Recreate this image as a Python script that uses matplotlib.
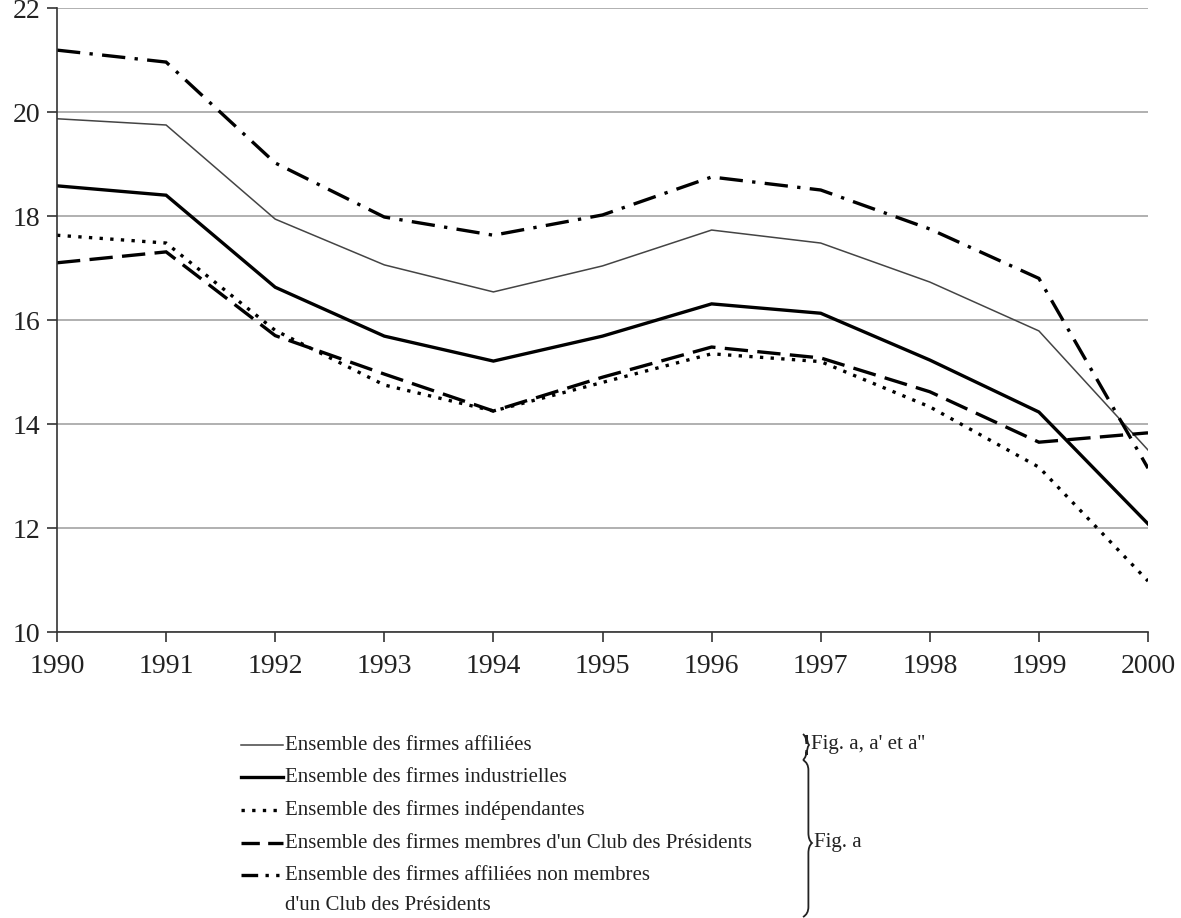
import matplotlib

matplotlib.use('agg')

import matplotlib.pyplot as plt
from matplotlib.path import Path
from matplotlib.patches import PathPatch

years = [1990, 1991, 1992, 1993, 1994, 1995, 1996, 1997, 1998, 1999, 2000]

affiliees = [19.87, 19.75, 17.94, 17.06, 16.54, 17.04, 17.73, 17.48, 16.73, 15.79, 13.5]
industrielles = [18.58, 18.40, 16.63, 15.69, 15.21, 15.69, 16.31, 16.13, 15.23, 14.23, 12.08]
independantes = [17.63, 17.48, 15.8, 14.75, 14.25, 14.8, 15.35, 15.2, 14.33, 13.17, 10.98]
club = [17.1, 17.31, 15.7, 14.96, 14.25, 14.9, 15.48, 15.27, 14.62, 13.65, 13.83]
non_club = [21.19, 20.96, 19.02, 17.98, 17.63, 18.02, 18.75, 18.5, 17.75, 16.8, 13.15]

labels = [
    ["Ensemble des firmes affiliées"],
    ["Ensemble des firmes industrielles"],
    ["Ensemble des firmes indépendantes"],
    ["Ensemble des firmes membres d'un Club des Présidents"],
    ["Ensemble des firmes affiliées non membres", "d'un Club des Présidents"],
]

plt.rcParams['font.family'] = ['Liberation Serif', 'DejaVu Serif']

# line styles for each series in the chart
styles = [
    dict(color='#444444', lw=1.1, ls='-'),
    dict(color='black', lw=2.4, ls='-'),
    dict(color='black', lw=2.4, ls=(0, (1, 2.2))),
    dict(color='black', lw=2.4, ls=(0, (7, 2.8))),
    dict(color='black', lw=2.4, ls=(0, (7, 2.8, 1, 2.8))),
]
# short samples for the legend
legend_ls = ['-', '-', (0, (1, 2.2)), (0, (5.5, 2.5)), (0, (5, 2.2, 1, 2.2, 1, 2.2))]
series = [affiliees, industrielles, independantes, club, non_club]

W, H = 1181, 918
fig = plt.figure(figsize=(W / 100, H / 100), dpi=100)
ax = fig.add_axes([57 / W, 1 - 632 / H, (1148 - 57) / W, (632 - 8) / H])

for vals, st in zip(series, styles):
    ax.plot(years, vals, solid_joinstyle='miter', dash_joinstyle='miter', **st)

ax.set_xlim(1990, 2000)
ax.set_ylim(10, 22)
ax.set_xticks(years)
ax.set_yticks(range(10, 23, 2))
ax.grid(axis='y', color='#aaaaaa', lw=1.3)
ax.set_axisbelow(True)
for s in ['top', 'right']:
    ax.spines[s].set_visible(False)
for s in ['left', 'bottom']:
    ax.spines[s].set_color('#333333')
    ax.spines[s].set_linewidth(1.2)
ax.tick_params(axis='both', direction='out', length=7, width=1.2, color='#333333',
               labelsize=20, labelcolor='#222222')
ax.tick_params(axis='x', pad=9)
ax.tick_params(axis='y', pad=5)

# legend drawn below the chart in pixel coordinates
lg = fig.add_axes([0, 0, 1, 1])
lg.set_xlim(0, W)
lg.set_ylim(H, 0)
lg.axis('off')

rows = [745, 777, 810, 843, 875]
for lines, st, ls, y in zip(labels, styles, legend_ls, rows):
    lg.plot([241, 283], [y, y], color=st['color'], lw=st['lw'], ls=ls)
    for i, line in enumerate(lines):
        lg.text(285, y + i * 30, line, fontsize=15, va='center', color='#222222')


def brace(x, y0, y1, ym, w):
    verts = [(x, y0), (x + w * 0.6, y0 + 3), (x + w * 0.6, y0 + 10),
             (x + w * 0.6, ym - 10), (x + w * 0.6, ym - 3), (x + w, ym),
             (x + w * 0.6, ym + 3), (x + w * 0.6, ym + 10),
             (x + w * 0.6, y1 - 10), (x + w * 0.6, y1 - 3), (x, y1)]
    codes = [Path.MOVETO, Path.CURVE3, Path.CURVE3, Path.LINETO, Path.CURVE3,
             Path.CURVE3, Path.CURVE3, Path.CURVE3, Path.LINETO, Path.CURVE3, Path.CURVE3]
    lg.add_patch(PathPatch(Path(verts, codes), fill=False, lw=1.3, color='#222222'))


brace(803, 734, 760, 745, 6)
brace(803, 760, 917, 843, 9)
lg.text(811, 745, "Fig. a, a' et a''", fontsize=15, va='center', color='#222222')
lg.text(814, 843, "Fig. a", fontsize=15, va='center', color='#222222')

fig.savefig('out.png', dpi=100)
